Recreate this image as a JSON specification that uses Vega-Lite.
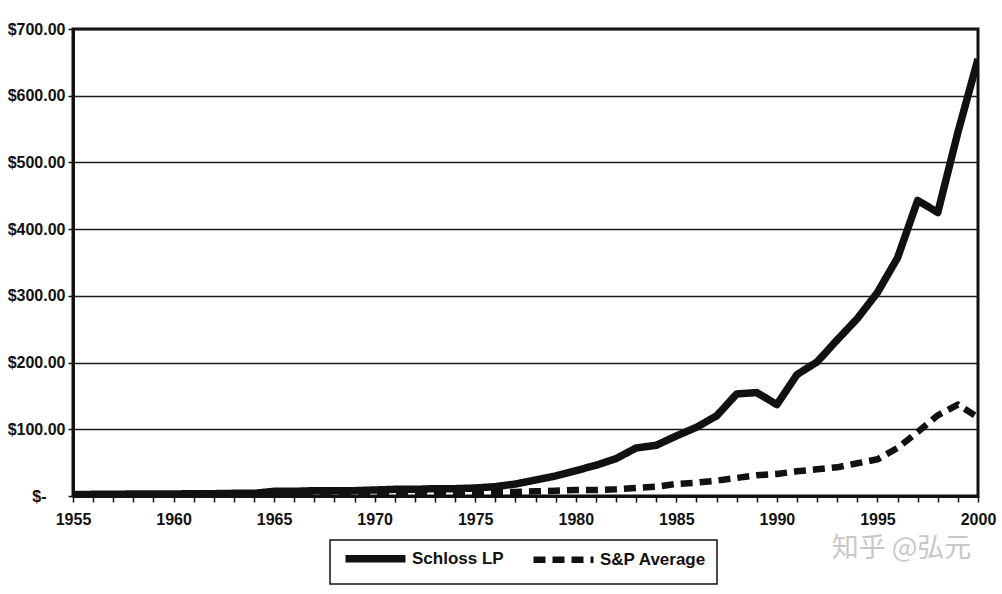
{
  "$schema": "https://vega.github.io/schema/vega-lite/v6.json",
  "width": 905,
  "height": 467,
  "autosize": {"type": "none"},
  "padding": {"left": 73, "top": 29, "right": 24, "bottom": 98},
  "background": "#ffffff",
  "config": {
    "font": "Liberation Sans",
    "view": {"stroke": "#111111", "strokeWidth": 3},
    "axis": {"labelFont": "Liberation Sans", "labelFontWeight": "bold", "labelFontSize": 16, "labelColor": "#111111", "labelOverlap": false}
  },
  "datasets": {
    "series": [
      {"year": 1955, "series": "Schloss LP", "value": 2},
      {"year": 1956, "series": "Schloss LP", "value": 2.5},
      {"year": 1957, "series": "Schloss LP", "value": 2.5},
      {"year": 1958, "series": "Schloss LP", "value": 3},
      {"year": 1959, "series": "Schloss LP", "value": 3},
      {"year": 1960, "series": "Schloss LP", "value": 3},
      {"year": 1961, "series": "Schloss LP", "value": 3.5},
      {"year": 1962, "series": "Schloss LP", "value": 3.5},
      {"year": 1963, "series": "Schloss LP", "value": 4},
      {"year": 1964, "series": "Schloss LP", "value": 4},
      {"year": 1965, "series": "Schloss LP", "value": 7},
      {"year": 1966, "series": "Schloss LP", "value": 7},
      {"year": 1967, "series": "Schloss LP", "value": 8},
      {"year": 1968, "series": "Schloss LP", "value": 8},
      {"year": 1969, "series": "Schloss LP", "value": 8},
      {"year": 1970, "series": "Schloss LP", "value": 9},
      {"year": 1971, "series": "Schloss LP", "value": 10},
      {"year": 1972, "series": "Schloss LP", "value": 10},
      {"year": 1973, "series": "Schloss LP", "value": 11},
      {"year": 1974, "series": "Schloss LP", "value": 11},
      {"year": 1975, "series": "Schloss LP", "value": 12},
      {"year": 1976, "series": "Schloss LP", "value": 14},
      {"year": 1977, "series": "Schloss LP", "value": 18},
      {"year": 1978, "series": "Schloss LP", "value": 24},
      {"year": 1979, "series": "Schloss LP", "value": 30},
      {"year": 1980, "series": "Schloss LP", "value": 38},
      {"year": 1981, "series": "Schloss LP", "value": 46},
      {"year": 1982, "series": "Schloss LP", "value": 56},
      {"year": 1983, "series": "Schloss LP", "value": 72},
      {"year": 1984, "series": "Schloss LP", "value": 76},
      {"year": 1985, "series": "Schloss LP", "value": 90},
      {"year": 1986, "series": "Schloss LP", "value": 103},
      {"year": 1987, "series": "Schloss LP", "value": 120},
      {"year": 1988, "series": "Schloss LP", "value": 153},
      {"year": 1989, "series": "Schloss LP", "value": 155},
      {"year": 1990, "series": "Schloss LP", "value": 137},
      {"year": 1991, "series": "Schloss LP", "value": 182},
      {"year": 1992, "series": "Schloss LP", "value": 201},
      {"year": 1993, "series": "Schloss LP", "value": 234},
      {"year": 1994, "series": "Schloss LP", "value": 266},
      {"year": 1995, "series": "Schloss LP", "value": 305},
      {"year": 1996, "series": "Schloss LP", "value": 357},
      {"year": 1997, "series": "Schloss LP", "value": 443},
      {"year": 1998, "series": "Schloss LP", "value": 425},
      {"year": 1999, "series": "Schloss LP", "value": 545},
      {"year": 2000, "series": "Schloss LP", "value": 655},
      {"year": 1955, "series": "S&P Average", "value": 1},
      {"year": 1960, "series": "S&P Average", "value": 2},
      {"year": 1965, "series": "S&P Average", "value": 3},
      {"year": 1970, "series": "S&P Average", "value": 4},
      {"year": 1975, "series": "S&P Average", "value": 5},
      {"year": 1977, "series": "S&P Average", "value": 6},
      {"year": 1978, "series": "S&P Average", "value": 7},
      {"year": 1979, "series": "S&P Average", "value": 8},
      {"year": 1980, "series": "S&P Average", "value": 9},
      {"year": 1981, "series": "S&P Average", "value": 9},
      {"year": 1982, "series": "S&P Average", "value": 10},
      {"year": 1983, "series": "S&P Average", "value": 12},
      {"year": 1984, "series": "S&P Average", "value": 14},
      {"year": 1985, "series": "S&P Average", "value": 18},
      {"year": 1986, "series": "S&P Average", "value": 20},
      {"year": 1987, "series": "S&P Average", "value": 23},
      {"year": 1988, "series": "S&P Average", "value": 27},
      {"year": 1989, "series": "S&P Average", "value": 31},
      {"year": 1990, "series": "S&P Average", "value": 33},
      {"year": 1991, "series": "S&P Average", "value": 37},
      {"year": 1992, "series": "S&P Average", "value": 40},
      {"year": 1993, "series": "S&P Average", "value": 43},
      {"year": 1994, "series": "S&P Average", "value": 49},
      {"year": 1995, "series": "S&P Average", "value": 55},
      {"year": 1996, "series": "S&P Average", "value": 72},
      {"year": 1997, "series": "S&P Average", "value": 96},
      {"year": 1998, "series": "S&P Average", "value": 121},
      {"year": 1999, "series": "S&P Average", "value": 137},
      {"year": 2000, "series": "S&P Average", "value": 118}
    ],
    "mark": [
      {"year": 1996.2, "value": -80, "label": "知乎 @弘元"}
    ]
  },
  "encoding": {
    "x": {
      "field": "year", "type": "quantitative",
      "scale": {"domain": [1955, 2000], "nice": false, "zero": false},
      "axis": {
        "title": null,
        "values": [1955,1956,1957,1958,1959,1960,1961,1962,1963,1964,1965,1966,1967,1968,1969,1970,1971,1972,1973,1974,1975,1976,1977,1978,1979,1980,1981,1982,1983,1984,1985,1986,1987,1988,1989,1990,1991,1992,1993,1994,1995,1996,1997,1998,1999,2000],
        "labelExpr": "datum.value % 5 == 0 ? datum.value : ''",
        "grid": false,
        "domainColor": "#111111", "domainWidth": 3,
        "tickColor": "#111111", "tickWidth": 1.5, "tickSize": 6,
        "labelPadding": 9, "labelOverlap": false, "labelFlush": false
      }
    },
    "y": {
      "field": "value", "type": "quantitative",
      "scale": {"domain": [0, 700], "nice": false},
      "axis": {
        "title": null,
        "values": [0, 100, 200, 300, 400, 500, 600, 700],
        "labelExpr": "datum.value == 0 ? '$-' : '$' + format(datum.value, '.2f')",
        "grid": true, "gridColor": "#1a1a1a", "gridWidth": 1.5, "gridOpacity": 1,
        "domainColor": "#111111", "domainWidth": 3,
        "tickColor": "#111111", "tickWidth": 1.5, "tickSize": 5,
        "labelPadding": {"condition": {"test": "datum.value == 0", "value": 22}, "value": 3}
      }
    }
  },
  "layer": [
    {
      "data": {"name": "series"},
      "mark": {"type": "line", "color": "#111111", "strokeCap": "butt", "strokeJoin": "round", "clip": true},
      "encoding": {
        "strokeDash": {
          "field": "series", "type": "nominal",
          "scale": {"domain": ["Schloss LP", "S&P Average"], "range": [[1, 0], [12, 7]]},
          "legend": {
            "title": null,
            "orient": "none",
            "legendX": 257,
            "legendY": 511,
            "direction": "horizontal",
            "columns": 2,
            "symbolType": "M-1,0H19",
            "symbolSize": 36,
            "symbolStrokeWidth": 7,
            "symbolStrokeColor": "#111111",
            "labelFont": "Liberation Sans",
            "labelFontWeight": "bold",
            "labelFontSize": 17,
            "labelColor": "#111111",
            "labelLimit": 300,
            "columnPadding": 16,
            "labelOffset": 55,
            "strokeColor": "#111111",
            "fillColor": "#ffffff",
            "padding": 10,
            "encode": {"legend": {"update": {"strokeWidth": {"value": 1.5}}}}
          }
        },
        "strokeWidth": {
          "field": "series", "type": "nominal",
          "scale": {"domain": ["Schloss LP", "S&P Average"], "range": [7.5, 6.5]},
          "legend": null
        },
        "order": {"field": "year", "type": "quantitative"}
      }
    },
    {
      "data": {"name": "mark"},
      "mark": {"type": "text", "color": "#c8c8c8", "font": "Noto Sans CJK SC", "fontSize": 27, "clip": false, "align": "center", "baseline": "middle"},
      "encoding": {
        "text": {"field": "label"}
      }
    }
  ]
}
